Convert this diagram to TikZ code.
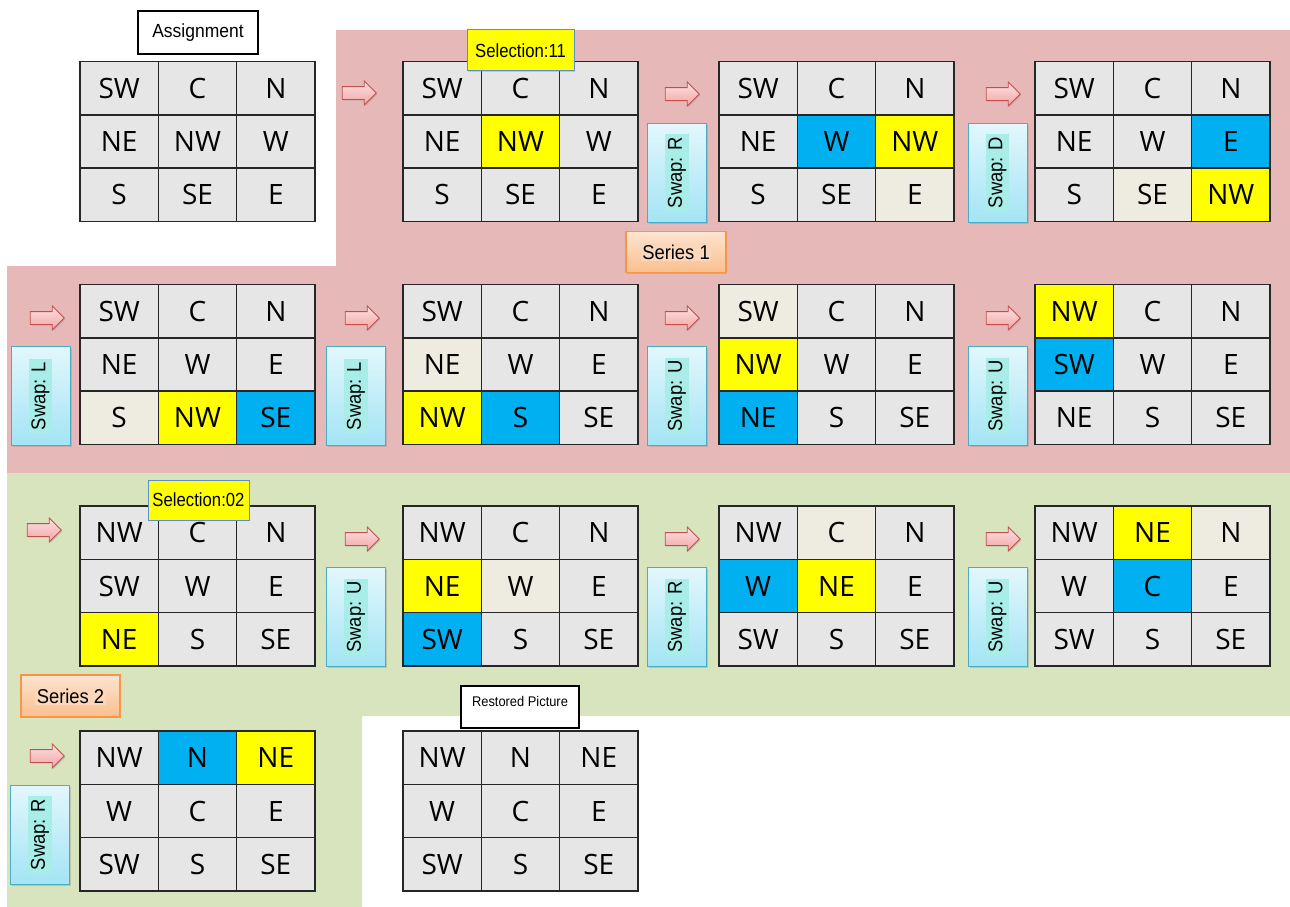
\documentclass[tikz,border=0pt]{standalone}
\usepackage{fontspec}
\usepackage{graphicx}
\setmainfont{Liberation Sans}
\newfontfamily\cellfont{Open Sans}
\usetikzlibrary{shapes.arrows,shadows}
\definecolor{cellg}{HTML}{E6E6E6}
\definecolor{cellb}{HTML}{EEECE1}
\definecolor{celly}{HTML}{FFFF00}
\definecolor{cellc}{HTML}{00B0F0}
\definecolor{pinkbg}{HTML}{E6B9B8}
\definecolor{greenbg}{HTML}{D7E4BD}
\definecolor{swaptop}{HTML}{E2F7FC}
\definecolor{swapbot}{HTML}{A3E4F5}
\definecolor{swapborder}{HTML}{4BACC6}
\definecolor{swaphl}{HTML}{A8EDE8}
\definecolor{sertop}{HTML}{FDE4CF}
\definecolor{serbot}{HTML}{FABF8F}
\definecolor{serborder}{HTML}{F79646}
\definecolor{serhl}{HTML}{FBD7BB}
\definecolor{selborder}{HTML}{5B8FCB}
\definecolor{arrowtop}{HTML}{FDE2E2}
\definecolor{arrowbot}{HTML}{F3A3A3}
\definecolor{arrowborder}{HTML}{C0504D}
\newcommand\mkgrid[4]{%
  \foreach \t/\c [count=\i from 0] in {#4}{%
    \pgfmathtruncatemacro\gcol{mod(\i,3)}%
    \pgfmathtruncatemacro\grow{\i/3}%
    \node[cell, fill=cell\c] (#1-\i) at ({#2+\gcol*78.33+39.17},{#3+\grow*53.33+26.67}) {\t};
  }%
}
\newcommand\swaptext[1]{\rotatebox{90}{\setlength{\fboxsep}{2.5pt}\colorbox{swaphl}{\scalebox{0.92}[1]{#1}}}}
\newcommand\sertext[1]{{\setlength{\fboxsep}{1.5pt}\colorbox{serhl}{\scalebox{0.92}[1]{#1}}}}
\newcommand\narrow[1]{\scalebox{0.88}[1]{#1}}
\begin{document}
\begin{tikzpicture}[x=1pt,y=-1pt,
  cell/.style={draw=black!85, line width=1.5pt, minimum width=78.33pt, minimum height=53.33pt,
    inner sep=0pt, font=\cellfont\fontsize{28}{30}\selectfont},
  sarrow/.style={single arrow, draw=arrowborder, line width=0.8pt, top color=arrowtop,
    bottom color=arrowbot, minimum height=34pt, single arrow head extend=5.5pt,
    inner xsep=0pt, inner ysep=6pt,
    drop shadow={shadow xshift=1.2pt, shadow yshift=-1.2pt, opacity=0.3}},
  swapbox/.style={draw=swapborder, line width=1pt, top color=swaptop, bottom color=swapbot,
    minimum width=59pt, minimum height=99pt, inner sep=0pt, font=\fontsize{20}{22}\selectfont,
    drop shadow={shadow xshift=1.5pt, shadow yshift=-1.5pt, opacity=0.3}},
  selbox/.style={draw=selborder, line width=1pt, fill=celly, minimum width=107pt,
    minimum height=41pt, inner sep=0pt, font=\fontsize{19}{21}\selectfont,
    drop shadow={shadow xshift=1.2pt, shadow yshift=-1.2pt, opacity=0.3}},
  serbox/.style={draw=serborder, line width=1.2pt, top color=sertop, bottom color=serbot,
    minimum width=100pt, minimum height=41pt, inner sep=0pt, font=\fontsize{20}{22}\selectfont,
    drop shadow={shadow xshift=1.2pt, shadow yshift=-1.2pt, opacity=0.3}},
  titlebox/.style={draw=black, line width=2.2pt, fill=white, minimum width=120pt,
    minimum height=43pt, inner sep=0pt,
    drop shadow={shadow xshift=1.2pt, shadow yshift=-1.2pt, opacity=0.3}}
]
\useasboundingbox (0,0) rectangle (1290,907);
% backgrounds
\fill[pinkbg] (336,30) -- (1290,30) -- (1290,473) -- (7,473) -- (7,266) -- (336,266) -- cycle;
\fill[greenbg] (7,473) -- (1290,473) -- (1290,716) -- (362,716) -- (362,907) -- (7,907) -- cycle;
% grids row 1
\mkgrid{ga}{80}{61.5}{SW/g,C/g,N/g,NE/g,NW/g,W/g,S/g,SE/g,E/g}
\mkgrid{gb}{403}{61.5}{SW/g,C/g,N/g,NE/g,NW/y,W/g,S/g,SE/g,E/g}
\mkgrid{gc}{719}{61.5}{SW/g,C/g,N/g,NE/g,W/c,NW/y,S/g,SE/g,E/b}
\mkgrid{gd}{1035}{61.5}{SW/g,C/g,N/g,NE/g,W/g,E/c,S/g,SE/b,NW/y}
% row 2
\mkgrid{ge}{80}{284.5}{SW/g,C/g,N/g,NE/g,W/g,E/g,S/b,NW/y,SE/c}
\mkgrid{gf}{403}{284.5}{SW/g,C/g,N/g,NE/b,W/g,E/g,NW/y,S/c,SE/g}
\mkgrid{gg}{719}{284.5}{SW/b,C/g,N/g,NW/y,W/g,E/g,NE/c,S/g,SE/g}
\mkgrid{gh}{1035}{284.5}{NW/y,C/g,N/g,SW/c,W/g,E/g,NE/g,S/g,SE/g}
% row 3
\mkgrid{gi}{80}{506}{NW/g,C/g,N/g,SW/g,W/g,E/g,NE/y,S/g,SE/g}
\mkgrid{gj}{403}{506}{NW/g,C/g,N/g,NE/y,W/b,E/g,SW/c,S/g,SE/g}
\mkgrid{gk}{719}{506}{NW/g,C/b,N/g,W/c,NE/y,E/g,SW/g,S/g,SE/g}
\mkgrid{gl}{1035}{506}{NW/g,NE/y,N/b,W/g,C/c,E/g,SW/g,S/g,SE/g}
% row 4
\mkgrid{gm}{80}{731}{NW/g,N/c,NE/y,W/g,C/g,E/g,SW/g,S/g,SE/g}
\mkgrid{gn}{403}{731}{NW/g,N/g,NE/g,W/g,C/g,E/g,SW/g,S/g,SE/g}
% arrows
\node[sarrow] (a1) at (356,93) {};
\node[sarrow] (a2) at (679,94) {};
\node[sarrow] (a3) at (1000,94) {};
\node[sarrow] (a4) at (44,318) {};
\node[sarrow] (a5) at (359,318) {};
\node[sarrow] (a6) at (679,318) {};
\node[sarrow] (a7) at (1000,318) {};
\node[sarrow] (a8) at (41,530) {};
\node[sarrow] (a9) at (359,539) {};
\node[sarrow] (a10) at (679,539) {};
\node[sarrow] (a11) at (1000,539) {};
\node[sarrow] (a12) at (44,756) {};
% swap boxes
\node[swapbox] (s1) at (677,172.5) {\swaptext{Swap: R}};
\node[swapbox] (s2) at (997.5,172.5) {\swaptext{Swap: D}};
\node[swapbox] (s3) at (40.5,396) {\swaptext{Swap: L}};
\node[swapbox] (s4) at (356,396) {\swaptext{Swap: L}};
\node[swapbox] (s5) at (677,396) {\swaptext{Swap: U}};
\node[swapbox] (s6) at (997.5,396) {\swaptext{Swap: U}};
\node[swapbox] (s7) at (356,617) {\swaptext{Swap: U}};
\node[swapbox] (s8) at (677,617) {\swaptext{Swap: R}};
\node[swapbox] (s9) at (997.5,617) {\swaptext{Swap: U}};
\node[swapbox] (s10) at (40,834.5) {\swaptext{Swap: R}};
% labels
\node[titlebox, font=\fontsize{19}{21}\selectfont] (assign) at (198,32.5) {\scalebox{0.92}[1]{Assignment}};
\node[selbox] (sel1) at (520.5,50.5) {\narrow{Selection:11}};
\node[serbox] (ser1) at (676,252) {\sertext{Series 1}};
\node[selbox, minimum width=101pt, minimum height=40pt] (sel2) at (198.5,500) {\narrow{Selection:02}};
\node[serbox, minimum width=99pt, minimum height=42pt] (ser2) at (70.5,696) {\sertext{Series 2}};
\node[titlebox, minimum width=118pt, minimum height=42pt, inner ysep=0pt, text height=20pt,
  text depth=22pt, font=\fontsize{14}{16}\selectfont] (restored) at (520,707) {\scalebox{0.92}[1]{Restored Picture}};
\end{tikzpicture}
\end{document}
